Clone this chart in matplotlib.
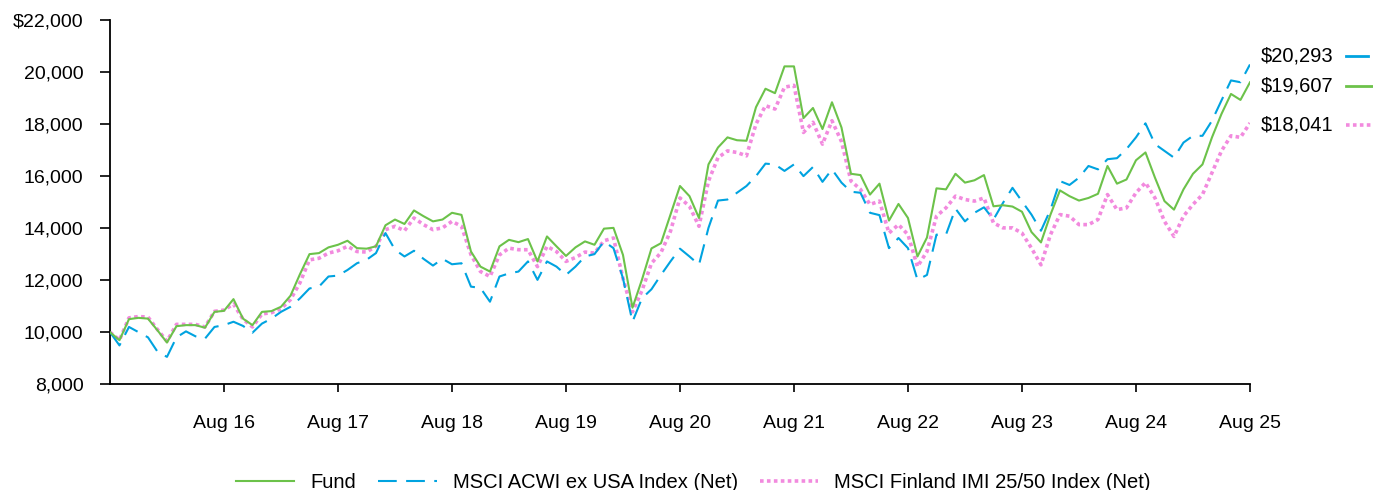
"""Growth of $10,000: Fund vs. MSCI indices, Aug 2015 - Aug 2025."""
import numpy as np
import matplotlib.pyplot as plt
import matplotlib as mpl
import matplotlib.transforms as transforms

mpl.rcParams.update({'font.family': ['Liberation Sans', 'DejaVu Sans'], 'font.size': 14})

# monthly values, Aug 2015 .. Aug 2025 (121 points)
fund = [10000, 9690, 10500, 10550, 10520, 10070, 9600, 10230, 10270, 10270, 10170, 10780,
        10820, 11270, 10520, 10270, 10780, 10810, 10975, 11400, 12230, 13000, 13040, 13260,
        13360, 13515, 13230, 13210, 13300, 14110, 14330, 14160, 14680, 14460, 14260, 14330,
        14590, 14510, 13100, 12520, 12330, 13300, 13550, 13460, 13580, 12720, 13680, 13300,
        12930, 13260, 13490, 13360, 13980, 14010, 12970, 10940, 12020, 13220, 13420, 14520,
        15620, 15230, 14390, 16450, 17100, 17490, 17380, 17360, 18650, 19360, 19190, 20220,
        20220, 18230, 18620, 17810, 18840, 17870, 16090, 16040, 15290, 15710, 14290, 14930,
        14390, 12910, 13640, 15530, 15490, 16090, 15750, 15840, 16040, 14840, 14880, 14830,
        14630, 13850, 13450, 14520, 15450, 15230, 15060, 15160, 15320, 16390, 15710, 15870,
        16610, 16910, 15940, 15040, 14710, 15490, 16090, 16450, 17490, 18390, 19160, 18930,
        19607]
acwi = [10000, 9490, 10200, 10000, 9800, 9250, 9050, 9800, 10030, 9840, 9750, 10200,
        10270, 10400, 10240, 9980, 10330, 10520, 10780, 10975, 11300, 11680, 11750, 12140,
        12175, 12390, 12650, 12780, 13040, 13810, 13170, 12910, 13130, 12820, 12560, 12820,
        12610, 12650, 11750, 11700, 11170, 12140, 12260, 12330, 12720, 12010, 12720, 12520,
        12200, 12520, 12910, 13000, 13490, 13230, 12070, 10400, 11300, 11650, 12200, 12720,
        13210, 12910, 12590, 14010, 15060, 15100, 15360, 15620, 16000, 16480, 16450, 16200,
        16450, 16000, 16350, 15780, 16260, 15750, 15400, 15360, 14590, 14500, 13230, 13620,
        13230, 12010, 12200, 13750, 13750, 14750, 14260, 14590, 14800, 14330, 14970, 15550,
        15030, 14520, 13900, 14710, 15810, 15660, 15940, 16390, 16260, 16650, 16690, 17040,
        17490, 18030, 17230, 16970, 16710, 17290, 17550, 17550, 18130, 18910, 19680, 19610,
        20293]
finland = [10000, 9700, 10550, 10600, 10580, 10100, 9650, 10300, 10300, 10300, 10200, 10800,
           10850, 11080, 10500, 10200, 10700, 10750, 10900, 11250, 11900, 12780, 12840, 13040,
           13130, 13300, 13100, 13080, 13300, 13940, 14070, 13900, 14390, 14135, 13940, 14010,
           14260, 14070, 12980, 12330, 12140, 12970, 13230, 13170, 13170, 12520, 13300, 13100,
           12720, 12870, 13080, 13040, 13515, 13620, 12070, 10780, 11600, 12650, 13060, 13880,
           15160, 14840, 14070, 15810, 16710, 16970, 16910, 16780, 18000, 18710, 18580, 19420,
           19490, 17680, 18070, 17230, 18130, 17330, 15810, 15490, 14910, 15040, 13810, 14135,
           13750, 12520, 13100, 14460, 14780, 15230, 15100, 15040, 15160, 14200, 14010, 14010,
           13810, 13230, 12590, 13750, 14520, 14460, 14135, 14135, 14330, 15290, 14710, 14780,
           15360, 15750, 15160, 14260, 13680, 14460, 14910, 15290, 16130, 16970, 17550, 17490,
           18041]
tick_labels = ['Aug 16', 'Aug 17', 'Aug 18', 'Aug 19', 'Aug 20',
               'Aug 21', 'Aug 22', 'Aug 23', 'Aug 24', 'Aug 25']

GREEN, BLUE, PINK = '#6cc24a', '#00a3e0', '#f28ade'
DOTS = (0, (1, 0.92))

fig = plt.figure(figsize=(13.73, 4.90), dpi=100)
ax = fig.add_axes([0.0801, 0.216, 0.8303, 0.743])

x = np.arange(len(fund))
l_fin, = ax.plot(x, finland, color=PINK, lw=2.6, linestyle=DOTS,
                 dash_capstyle='butt', label='MSCI Finland IMI 25/50 Index (Net)', zorder=2)
l_acwi, = ax.plot(x, acwi, color=BLUE, lw=1.5, linestyle=(0, (9, 4.5)),
                  label='MSCI ACWI ex USA Index (Net)', zorder=3)
l_fund, = ax.plot(x, fund, color=GREEN, lw=1.5, label='Fund', zorder=4)

ax.set_xlim(0, len(fund) - 1)
ax.set_ylim(8000, 22000)
ax.set_xticks(np.arange(12, len(fund), 12))
ax.set_xticklabels(tick_labels)
ax.set_yticks(np.arange(8000, 22001, 2000))
ax.set_yticklabels([f'${v:,.0f}' if v == 22000 else f'{v:,.0f}'
                    for v in np.arange(8000, 22001, 2000)])
ax.tick_params(axis='x', length=6, width=1.2, pad=16)
ax.tick_params(axis='y', length=7, width=1.2, pad=12)
for s in ['top', 'right']:
    ax.spines[s].set_visible(False)
for s in ['left', 'bottom']:
    ax.spines[s].set_linewidth(1.3)

# end-of-period value labels with short line keys
trans = transforms.blended_transform_factory(ax.transAxes, ax.transData)
ends = [(acwi[-1], 6, BLUE, 2.0, '-', 1.1035),
        (fund[-1], -2.5, GREEN, 2.0, '-', 1.1140),
        (finland[-1], -1.5, PINK, 2.6, DOTS, 1.1140)]
for val, dy, col, lw, ls, x1 in ends:
    ax.annotate(f'${val:,.0f}', xy=(1.0, val), xycoords=trans,
                xytext=(8, dy), textcoords='offset points',
                ha='left', va='center', fontsize=14.5)
    ypt = transforms.offset_copy(trans, fig=fig, x=0, y=dy, units='points')
    ax.plot([1.0842, x1], [val, val], transform=ypt, color=col,
            lw=lw, linestyle=ls, dash_capstyle='butt', clip_on=False)

fig.legend(handles=[l_fund, l_acwi, l_fin], loc='lower center',
           bbox_to_anchor=(0.505, -0.02), borderaxespad=0, ncol=3, frameon=False,
           fontsize=14.5, handlelength=2.9, handletextpad=0.8, columnspacing=1.1)

fig.savefig('out.png', dpi=100)
